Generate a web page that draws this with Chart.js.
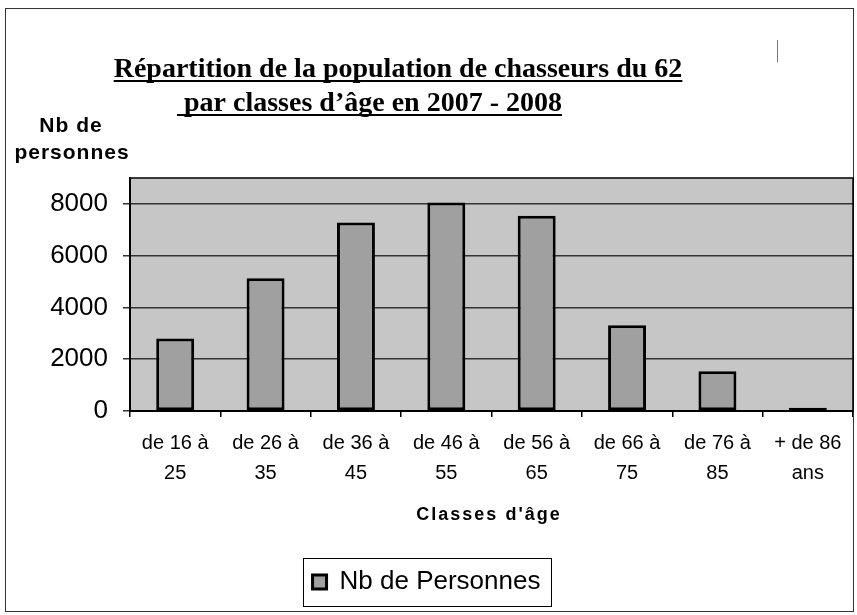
<!DOCTYPE html>
<html>
<head>
<meta charset="utf-8">
<script src="https://cdn.jsdelivr.net/npm/chart.js@4/dist/chart.umd.min.js"></script>
<style>
  body { margin: 0; background: #fff; }
  #wrap { width: 857px; height: 615px; }
</style>
</head>
<body>
<div id="wrap"><canvas id="chart" width="857" height="615"></canvas></div>
<script>
// données
const classes = [
    ['de 16 à', '25'], ['de 26 à', '35'], ['de 36 à', '45'], ['de 46 à', '55'],
    ['de 56 à', '65'], ['de 66 à', '75'], ['de 76 à', '85'], ['+ de 86', 'ans']
];
const nbPersonnes = [2800, 5130, 7280, 8050, 7540, 3310, 1540, 130];
const graduationsY = [0, 2000, 4000, 6000, 8000];
const titreLignes = ['Répartition de la population de chasseurs du 62', ' par classes d\u2019âge en 2007 - 2008'];
const titreY = ['Nb de', 'personnes'];
const titreX = "Classes d'âge";
const serieNom = 'Nb de Personnes';

// cadre, fond de la zone de tracé, titres soulignés, cadre de légende
const decor = {
    id: 'decor',
    beforeDraw(chart) {
        const { ctx, chartArea: a } = chart;
        ctx.save();
        ctx.fillStyle = '#c6c6c6';
        ctx.fillRect(a.left, a.top, a.right - a.left, a.bottom - a.top);
        ctx.restore();
    },
    afterDraw(chart) {
        const { ctx, chartArea: a } = chart;
        ctx.save();
        // cadre extérieur
        ctx.strokeStyle = '#333';
        ctx.lineWidth = 1;
        ctx.strokeRect(5.5, 8.5, 848, 603);
        // petit trait en haut à droite
        ctx.strokeStyle = '#777';
        ctx.beginPath(); ctx.moveTo(777.5, 40); ctx.lineTo(777.5, 62); ctx.stroke();

        // bord de la zone de tracé
        ctx.strokeStyle = '#000';
        ctx.lineWidth = 1.5;
        ctx.strokeRect(a.left, a.top, a.right - a.left, a.bottom - a.top);

        // titre
        ctx.fillStyle = '#000';
        ctx.font = 'bold 28px "Liberation Serif", "Times New Roman", serif';
        ctx.textBaseline = 'alphabetic';
        ctx.textAlign = 'left';
        const w1 = ctx.measureText(titreLignes[0]).width;
        const x1 = 398 - w1 / 2;
        ctx.fillText(titreLignes[0], x1, 77);
        ctx.fillRect(x1, 80, w1, 2);
        const w2 = ctx.measureText(titreLignes[1]).width;
        const x2 = 177;
        ctx.fillText(titreLignes[1], x2, 111);
        ctx.fillRect(x2, 114, w2, 2);

        // titre axe Y
        ctx.font = 'bold 21px "Liberation Sans", Arial, sans-serif';
        ctx.letterSpacing = '1px';
        ctx.textAlign = 'center';
        ctx.textBaseline = 'middle';
        ctx.fillText(titreY[0], 71, 126);
        ctx.fillText(titreY[1], 72, 153);

        // titre axe X
        ctx.font = 'bold 18px "Liberation Sans", Arial, sans-serif';
        ctx.letterSpacing = '2px';
        ctx.fillText(titreX, 489, 515);
        ctx.letterSpacing = '0px';

        // cadre de la légende
        const hb = chart.legend.legendHitBoxes[0];
        if (hb) {
            ctx.strokeStyle = '#000';
            ctx.lineWidth = 1;
            const cy = hb.top + hb.height / 2;
            ctx.strokeRect(Math.round(hb.left - 10) + 0.5, Math.round(cy - 24) + 0.5, Math.round(hb.width + 20), 48);
        }
        ctx.restore();
    }
};

const ctx = document.getElementById('chart').getContext('2d');
const chart = new Chart(ctx, {
    type: 'bar',
    data: {
        labels: classes,
        datasets: [{
            label: serieNom,
            data: nbPersonnes,
            backgroundColor: '#a0a0a0',
            borderColor: '#000',
            borderWidth: 3,
            borderSkipped: false,
            barPercentage: 0.42,
            categoryPercentage: 1
        }]
    },
    options: {
        responsive: false,
        animation: false,
        layout: { padding: { top: 178, right: 4, bottom: 10, left: 0 } },
        plugins: {
            title: { display: false },
            tooltip: { enabled: false },
            legend: {
                position: 'bottom',
                labels: {
                    boxWidth: 14,
                    boxHeight: 14,
                    padding: 10,
                    color: '#000',
                    font: { family: '"Liberation Sans", Arial, sans-serif', size: 26 }
                }
            }
        },
        scales: {
            x: {
                afterFit(scale) { scale.height = 148; },
                grid: { drawOnChartArea: false, drawTicks: true, tickLength: 6, offset: true, color: '#000', lineWidth: 1.5 },
                border: { color: '#000', width: 2 },
                ticks: {
                    color: '#000',
                    autoSkip: false,
                    maxRotation: 0,
                    padding: 11,
                    font: { family: '"Liberation Sans", Arial, sans-serif', size: 20, lineHeight: 1.5 }
                }
            },
            y: {
                min: 0,
                max: 9000,
                afterFit(scale) { scale.width = 130; },
                afterBuildTicks(scale) { scale.ticks = graduationsY.map(v => ({ value: v })); },
                grid: { color: '#333', lineWidth: 1.5, tickLength: 7 },
                border: { color: '#000', width: 2 },
                ticks: {
                    color: '#000',
                    padding: 15,
                    callback: v => String(v),
                    font: { family: '"Liberation Sans", Arial, sans-serif', size: 26 }
                }
            }
        }
    },
    plugins: [decor]
});
</script>
</body>
</html>
